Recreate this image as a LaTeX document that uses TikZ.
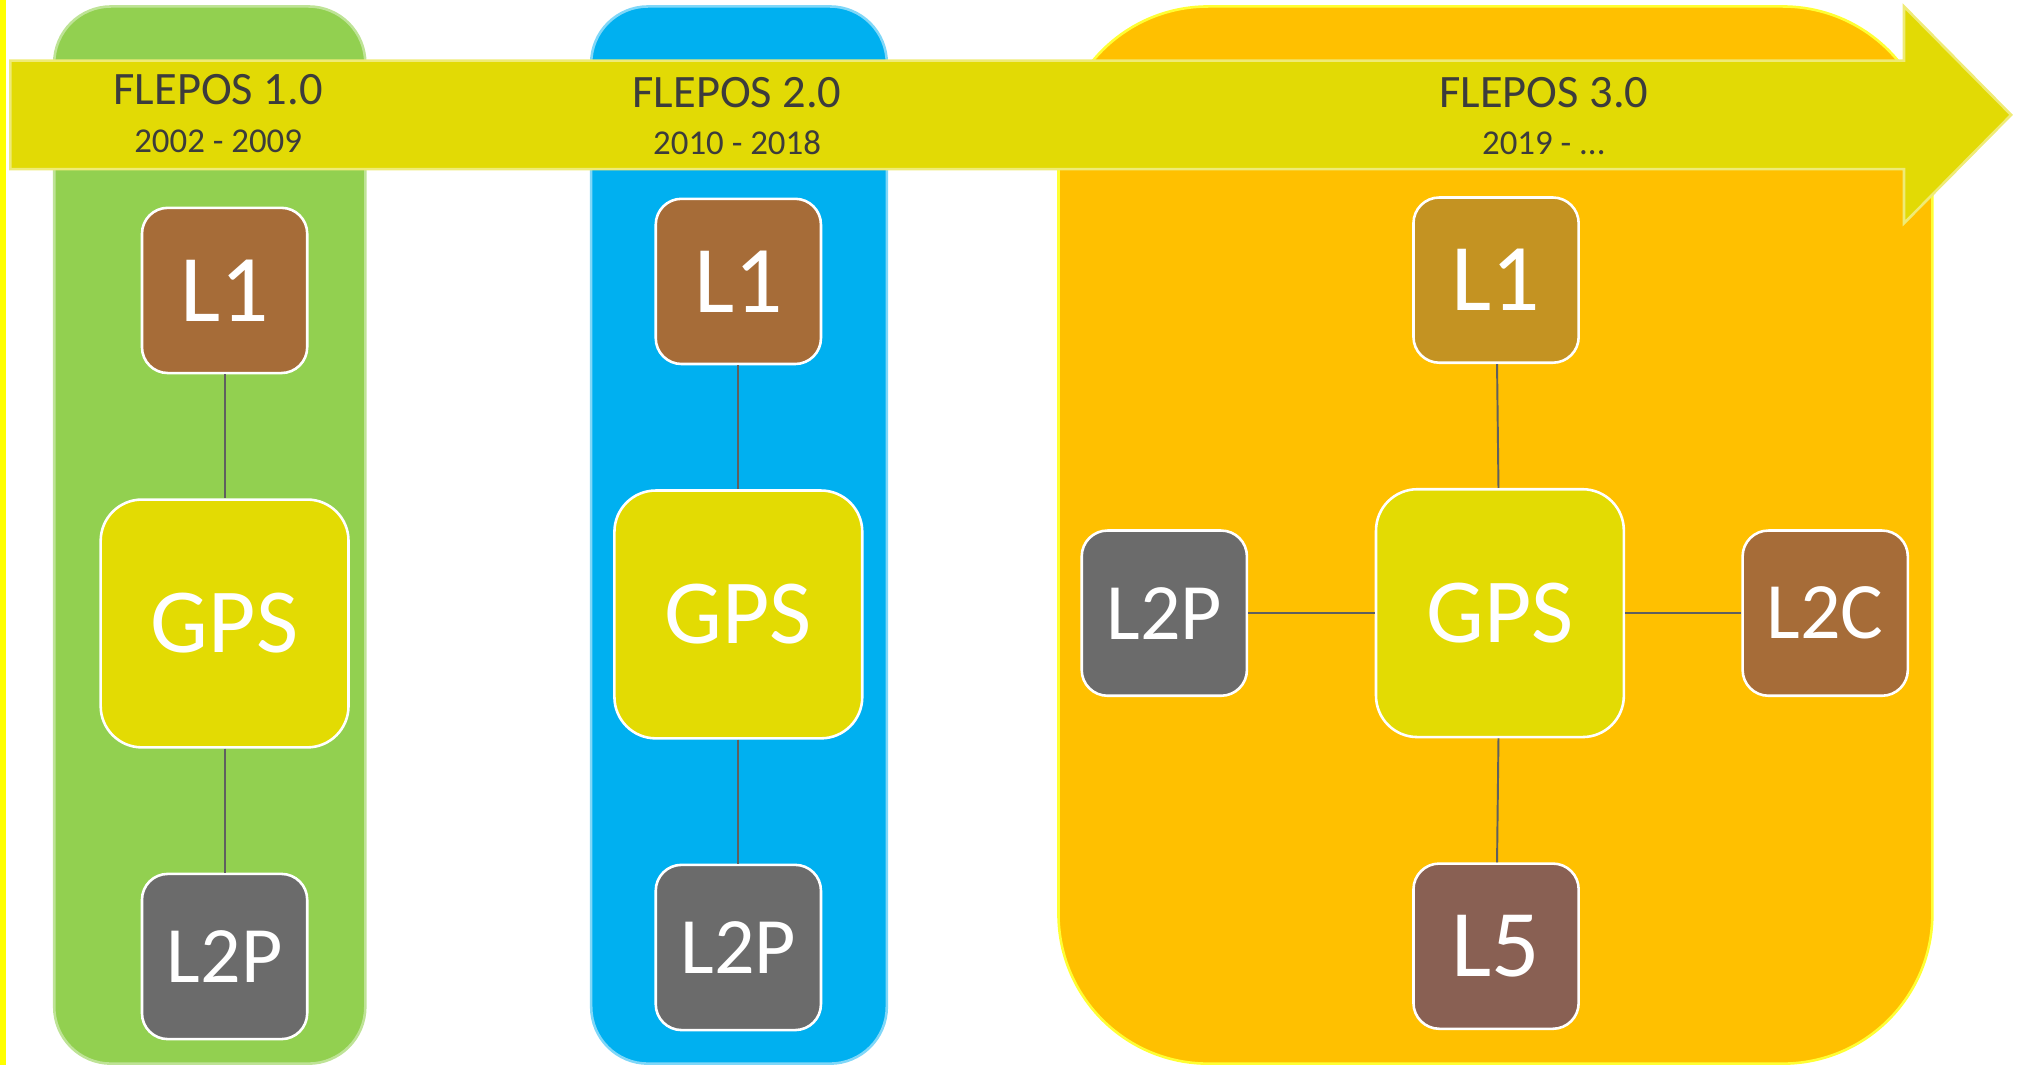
\documentclass[tikz,border=0pt]{standalone}
\usepackage{fontspec}
\setmainfont{Carlito}
\usetikzlibrary{positioning}

\definecolor{edgeyellow}{HTML}{FFFF00}
\definecolor{panelgreen}{HTML}{92D050}
\definecolor{panelblue}{HTML}{00B0F0}
\definecolor{panelorange}{HTML}{FFC000}
\definecolor{banneryellow}{HTML}{E2DA05}
\definecolor{gpsyellow}{HTML}{E3DB03}
\definecolor{lbrown}{HTML}{A66C38}
\definecolor{lgold}{HTML}{C49322}
\definecolor{lgray}{HTML}{6B6B6B}
\definecolor{lfive}{HTML}{896053}
\definecolor{linkgray}{HTML}{5F5F5F}
\definecolor{titlegray}{HTML}{3C3C3C}

\tikzset{
  box/.style={rectangle, rounded corners=10pt, draw=white, line width=1pt,
    text=white, minimum size=64pt, inner sep=0pt},
  bigbox/.style={box, minimum size=96pt, rounded corners=16pt,
    fill=gpsyellow, font=\fontsize{35.5}{36}\selectfont},
  lone/.style={box, font=\fontsize{37}{38}\selectfont},
  ltwo/.style={box, font=\fontsize{31}{32}\selectfont},
  link/.style={draw=linkgray, line width=0.75pt},
  version/.style={anchor=base, text=titlegray, font=\fontsize{18}{19}\selectfont},
  period/.style={anchor=base, text=titlegray, font=\fontsize{13.5}{14}\selectfont},
}

\begin{document}
\begin{tikzpicture}[x=0.5pt, y=-0.5pt, node distance=48pt]
    \useasboundingbox (0,0) rectangle (1568,825);

    % Background panels
    \fill[edgeyellow] (0,0) rectangle (4.6,825);
    \filldraw[fill=panelgreen, draw=panelgreen!60!white, line width=1pt, rounded corners=22pt]
        (42,5) rectangle (283,824);
    \filldraw[fill=panelblue, draw=panelblue!50!white, line width=1pt, rounded corners=22pt]
        (458,5) rectangle (687,824);
    \filldraw[fill=panelorange, draw=edgeyellow!80!white, line width=1pt, rounded corners=58pt]
        (820,5) rectangle (1497,824);

    % Time arrow
    \filldraw[fill=banneryellow, draw=banneryellow!55!white, line width=1pt]
        (8,47) -- (1475,47) -- (1475,5) -- (1558,89) -- (1475,173)
        -- (1475,131) -- (8,131) -- cycle;

    \node[version] (v1) at (169,81) {FLEPOS 1.0};
    \node[period] (p1) at (169,118) {2002 - 2009};
    \node[version] (v2) at (571,83) {FLEPOS 2.0};
    \node[period] (p2) at (571,120) {2010 - 2018};
    \node[version] (v3) at (1196,83) {FLEPOS 3.0};
    \node[period] (p3) at (1196,120) {2019 - ...};

    % FLEPOS 1.0
    \node[bigbox] (gps1) at (174,483) {GPS};
    \node[lone, fill=lbrown, above=of gps1] (l1a) {L1};
    \node[ltwo, fill=lgray, below=of gps1] (l2pa) {L2P};

    % FLEPOS 2.0
    \node[bigbox] (gps2) at (572,476) {GPS};
    \node[lone, fill=lbrown, above=of gps2] (l1b) {L1};
    \node[ltwo, fill=lgray, below=of gps2] (l2pb) {L2P};

    % FLEPOS 3.0
    \node[bigbox] (gps3) at (1162,475) {GPS};
    \node[lone, fill=lgold, above=of gps3, xshift=-1.5pt] (l1c) {L1};
    \node[lone, fill=lfive, below=of gps3, xshift=-1.5pt] (l5c) {L5};
    \node[ltwo, fill=lgray, left=49pt of gps3] (l2pc) {L2P};
    \node[ltwo, fill=lbrown, right=45pt of gps3] (l2cc) {L2C};

    % Connections
    \draw[link] (l1a) -- (gps1);
    \draw[link] (gps1) -- (l2pa);
    \draw[link] (l1b) -- (gps2);
    \draw[link] (gps2) -- (l2pb);
    \draw[link] (l1c) -- (gps3);
    \draw[link] (gps3) -- (l5c);
    \draw[link] (l2pc) -- (gps3);
    \draw[link] (gps3) -- (l2cc);
\end{tikzpicture}
\end{document}
